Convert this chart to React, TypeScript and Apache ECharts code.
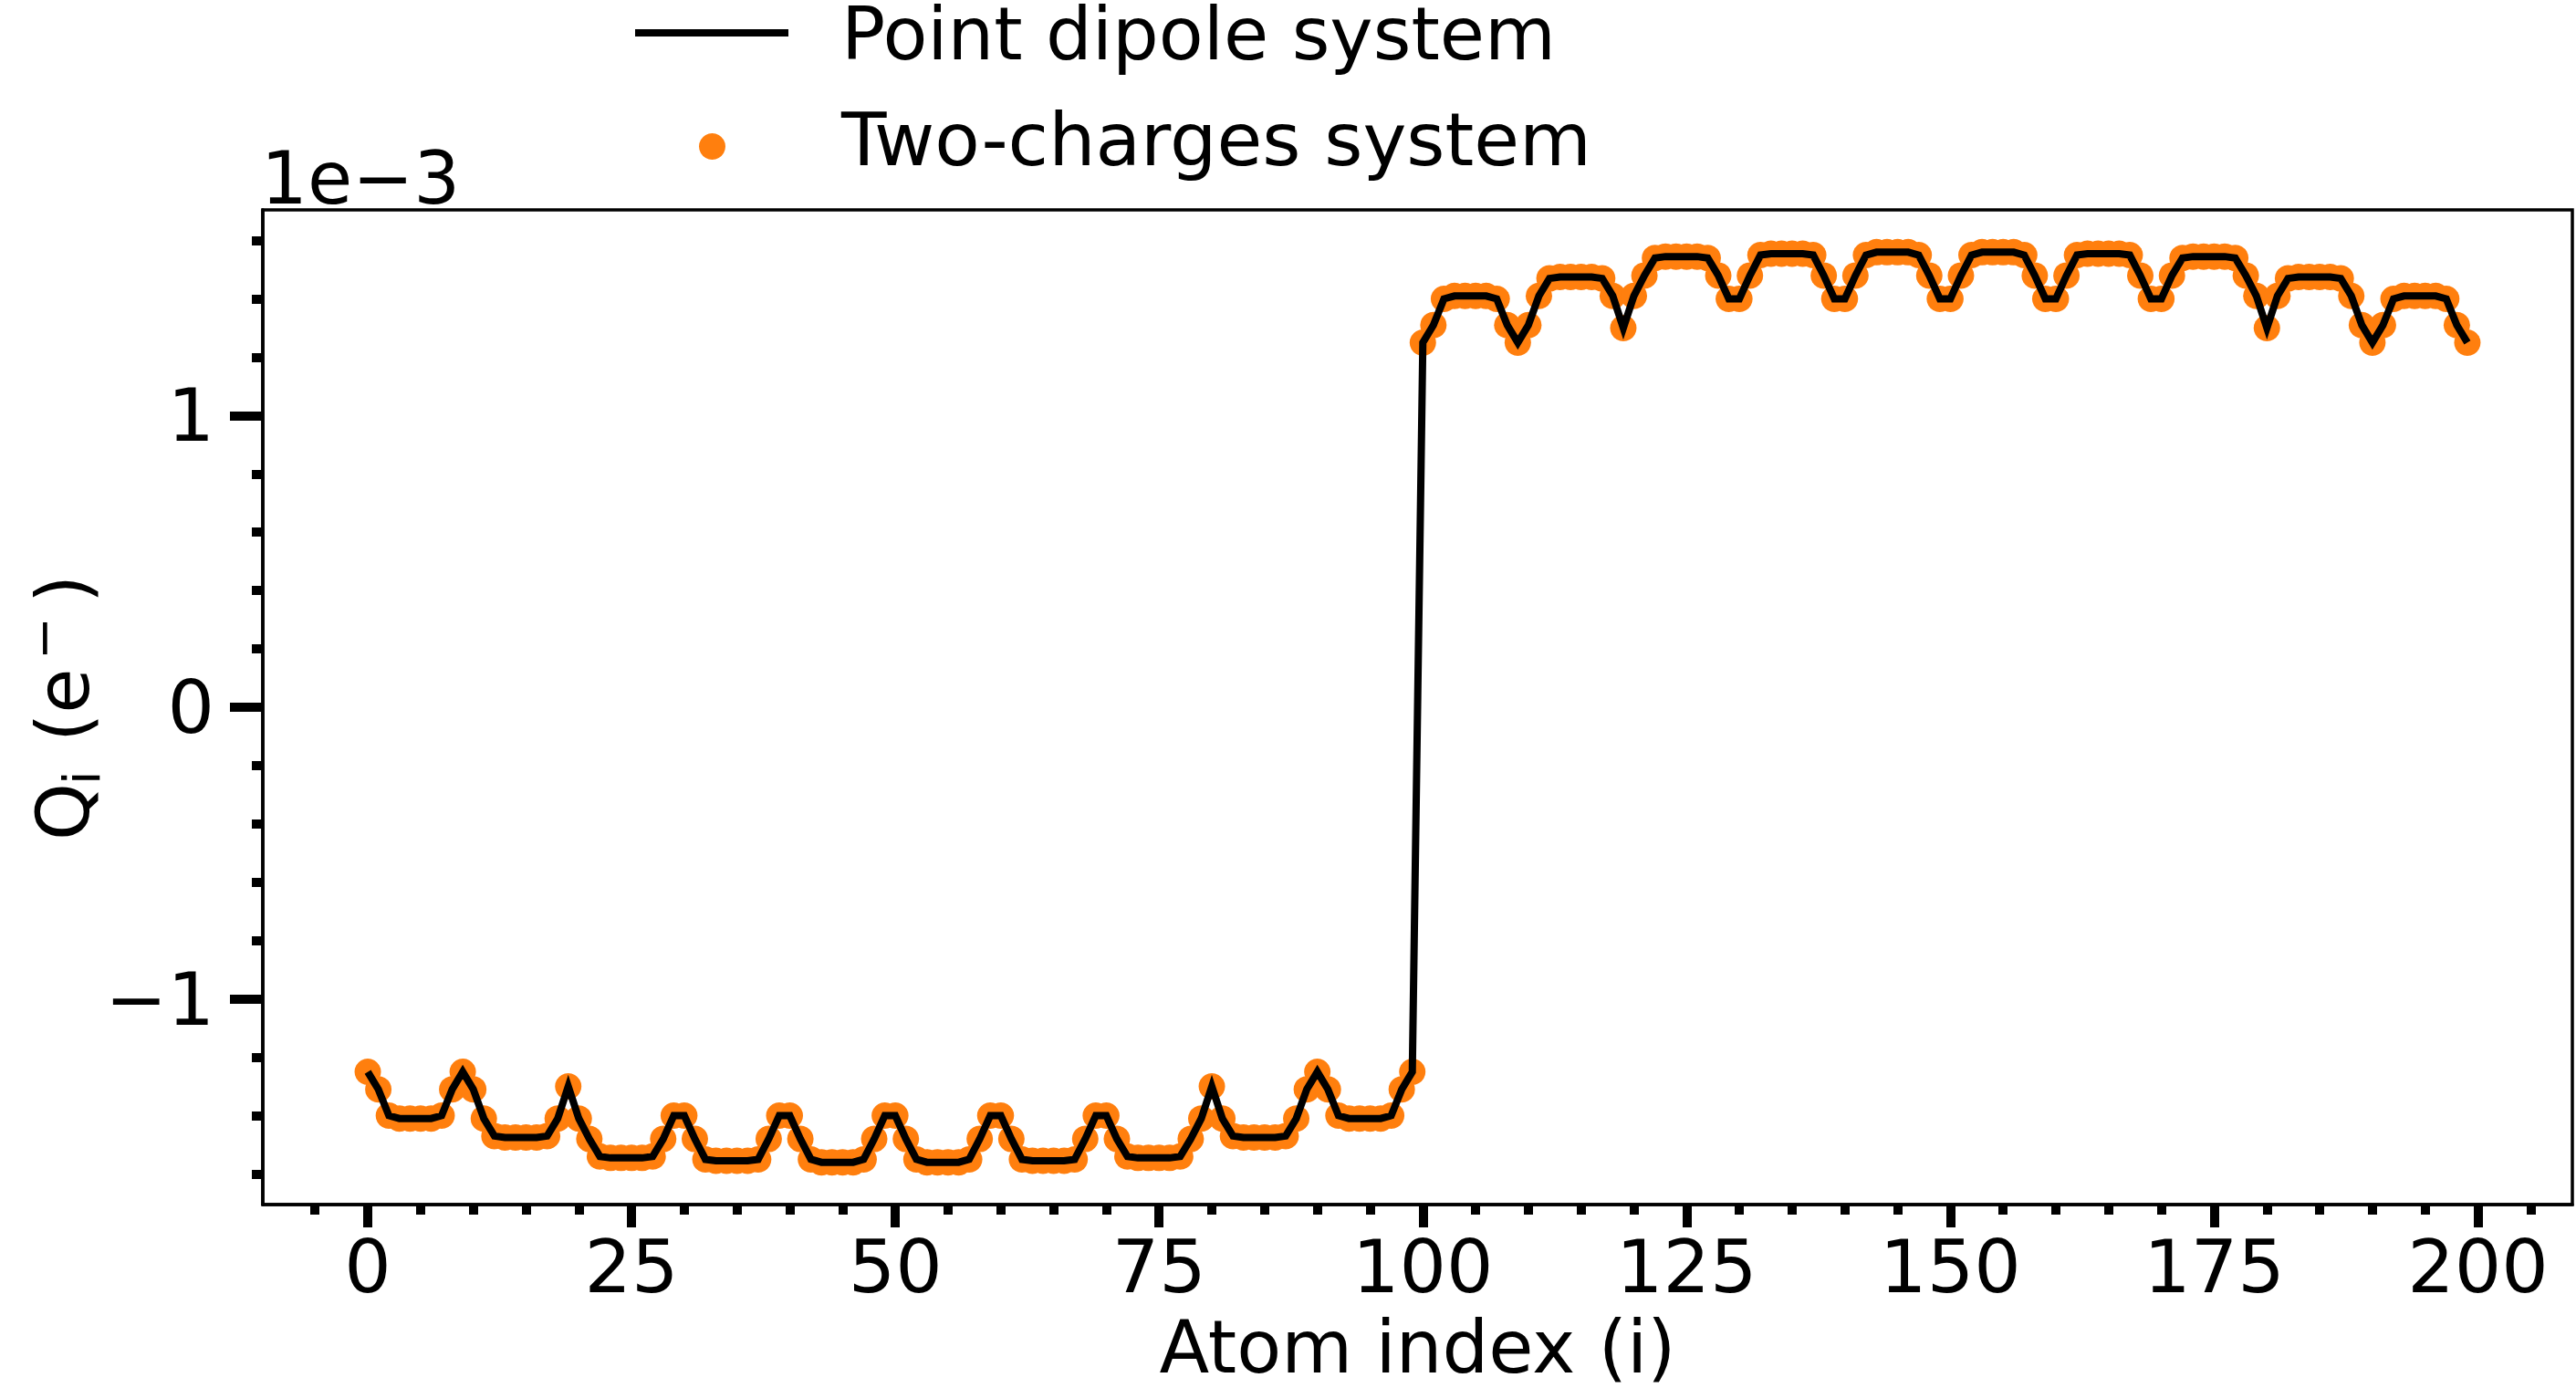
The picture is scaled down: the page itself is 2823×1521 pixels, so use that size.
import React, { useEffect, useRef } from "react";
import * as echarts from "echarts";

// Atom indices (x) and charges in units of 1e-3 e- (y)
const atomIndex = [
  0, 1, 2, 3, 4, 5, 6, 7, 8, 9, 10, 11, 12, 13, 14, 15, 16, 17, 18, 19,
  20, 21, 22, 23, 24, 25, 26, 27, 28, 29, 30, 31, 32, 33, 34, 35, 36, 37, 38, 39,
  40, 41, 42, 43, 44, 45, 46, 47, 48, 49, 50, 51, 52, 53, 54, 55, 56, 57, 58, 59,
  60, 61, 62, 63, 64, 65, 66, 67, 68, 69, 70, 71, 72, 73, 74, 75, 76, 77, 78, 79,
  80, 81, 82, 83, 84, 85, 86, 87, 88, 89, 90, 91, 92, 93, 94, 95, 96, 97, 98, 99,
  100, 101, 102, 103, 104, 105, 106, 107, 108, 109, 110, 111, 112, 113, 114, 115, 116, 117, 118, 119,
  120, 121, 122, 123, 124, 125, 126, 127, 128, 129, 130, 131, 132, 133, 134, 135, 136, 137, 138, 139,
  140, 141, 142, 143, 144, 145, 146, 147, 148, 149, 150, 151, 152, 153, 154, 155, 156, 157, 158, 159,
  160, 161, 162, 163, 164, 165, 166, 167, 168, 169, 170, 171, 172, 173, 174, 175, 176, 177, 178, 179,
  180, 181, 182, 183, 184, 185, 186, 187, 188, 189, 190, 191, 192, 193, 194, 195, 196, 197, 198, 199,
];

const pointDipoleQ = [
  -1.25, -1.31, -1.40, -1.41, -1.41, -1.41, -1.41, -1.40, -1.31, -1.25,
  -1.31, -1.41, -1.47, -1.475, -1.475, -1.475, -1.475, -1.47, -1.41, -1.30,
  -1.41, -1.48, -1.54, -1.545, -1.545, -1.545, -1.545, -1.54, -1.48, -1.40,
  -1.40, -1.48, -1.55, -1.555, -1.555, -1.555, -1.555, -1.55, -1.48, -1.40,
  -1.40, -1.48, -1.55, -1.56, -1.56, -1.56, -1.56, -1.55, -1.48, -1.40,
  -1.40, -1.48, -1.55, -1.56, -1.56, -1.56, -1.56, -1.55, -1.48, -1.40,
  -1.40, -1.48, -1.55, -1.555, -1.555, -1.555, -1.555, -1.55, -1.48, -1.40,
  -1.40, -1.48, -1.54, -1.545, -1.545, -1.545, -1.545, -1.54, -1.48, -1.41,
  -1.30, -1.41, -1.47, -1.475, -1.475, -1.475, -1.475, -1.47, -1.41, -1.31,
  -1.25, -1.31, -1.40, -1.41, -1.41, -1.41, -1.41, -1.40, -1.31, -1.25,
  1.25, 1.31, 1.40, 1.41, 1.41, 1.41, 1.41, 1.40, 1.31, 1.25,
  1.31, 1.41, 1.47, 1.475, 1.475, 1.475, 1.475, 1.47, 1.41, 1.30,
  1.41, 1.48, 1.54, 1.545, 1.545, 1.545, 1.545, 1.54, 1.48, 1.40,
  1.40, 1.48, 1.55, 1.555, 1.555, 1.555, 1.555, 1.55, 1.48, 1.40,
  1.40, 1.48, 1.55, 1.56, 1.56, 1.56, 1.56, 1.55, 1.48, 1.40,
  1.40, 1.48, 1.55, 1.56, 1.56, 1.56, 1.56, 1.55, 1.48, 1.40,
  1.40, 1.48, 1.55, 1.555, 1.555, 1.555, 1.555, 1.55, 1.48, 1.40,
  1.40, 1.48, 1.54, 1.545, 1.545, 1.545, 1.545, 1.54, 1.48, 1.41,
  1.30, 1.41, 1.47, 1.475, 1.475, 1.475, 1.475, 1.47, 1.41, 1.31,
  1.25, 1.31, 1.40, 1.41, 1.41, 1.41, 1.41, 1.40, 1.31, 1.25,
];

const twoChargesQ = [
  -1.25, -1.31, -1.40, -1.41, -1.41, -1.41, -1.41, -1.40, -1.31, -1.25,
  -1.31, -1.41, -1.47, -1.475, -1.475, -1.475, -1.475, -1.47, -1.41, -1.30,
  -1.41, -1.48, -1.54, -1.545, -1.545, -1.545, -1.545, -1.54, -1.48, -1.40,
  -1.40, -1.48, -1.55, -1.555, -1.555, -1.555, -1.555, -1.55, -1.48, -1.40,
  -1.40, -1.48, -1.55, -1.56, -1.56, -1.56, -1.56, -1.55, -1.48, -1.40,
  -1.40, -1.48, -1.55, -1.56, -1.56, -1.56, -1.56, -1.55, -1.48, -1.40,
  -1.40, -1.48, -1.55, -1.555, -1.555, -1.555, -1.555, -1.55, -1.48, -1.40,
  -1.40, -1.48, -1.54, -1.545, -1.545, -1.545, -1.545, -1.54, -1.48, -1.41,
  -1.30, -1.41, -1.47, -1.475, -1.475, -1.475, -1.475, -1.47, -1.41, -1.31,
  -1.25, -1.31, -1.40, -1.41, -1.41, -1.41, -1.41, -1.40, -1.31, -1.25,
  1.25, 1.31, 1.40, 1.41, 1.41, 1.41, 1.41, 1.40, 1.31, 1.25,
  1.31, 1.41, 1.47, 1.475, 1.475, 1.475, 1.475, 1.47, 1.41, 1.30,
  1.41, 1.48, 1.54, 1.545, 1.545, 1.545, 1.545, 1.54, 1.48, 1.40,
  1.40, 1.48, 1.55, 1.555, 1.555, 1.555, 1.555, 1.55, 1.48, 1.40,
  1.40, 1.48, 1.55, 1.56, 1.56, 1.56, 1.56, 1.55, 1.48, 1.40,
  1.40, 1.48, 1.55, 1.56, 1.56, 1.56, 1.56, 1.55, 1.48, 1.40,
  1.40, 1.48, 1.55, 1.555, 1.555, 1.555, 1.555, 1.55, 1.48, 1.40,
  1.40, 1.48, 1.54, 1.545, 1.545, 1.545, 1.545, 1.54, 1.48, 1.41,
  1.30, 1.41, 1.47, 1.475, 1.475, 1.475, 1.475, 1.47, 1.41, 1.31,
  1.25, 1.31, 1.40, 1.41, 1.41, 1.41, 1.41, 1.40, 1.31, 1.25,
];

const xMajorTicks = [0, 25, 50, 75, 100, 125, 150, 175, 200];
const xMinorTicks = [
  -5, 5, 10, 15, 20, 30, 35, 40, 45, 55, 60, 65, 70, 80, 85, 90, 95,
  105, 110, 115, 120, 130, 135, 140, 145, 155, 160, 165, 170, 180, 185, 190, 195, 205,
];
const yMajorTicks = [-1, 0, 1];
const yMinorTicks = [-1.6, -1.4, -1.2, -0.8, -0.6, -0.4, -0.2, 0.2, 0.4, 0.6, 0.8, 1.2, 1.4, 1.6];

const seriesNames = ["Point dipole system", "Two-charges system"];
const xAxisName = "Atom index (i)";
const offsetText = "1e\u22123";

const X_MIN = -9.95;
const X_MAX = 208.95;
const Y_MIN = -1.705;
const Y_MAX = 1.705;

const FONT = "DejaVu Sans";
const BLACK = "#000000";
const ORANGE = "#ff7f0e";

const fmt = (v: number) => (v < 0 ? "\u2212" + String(Math.abs(v)) : String(v));

export default function App() {
  const ref = useRef<HTMLDivElement>(null);

  useEffect(() => {
    if (!ref.current) return;
    const chart = echarts.init(ref.current, undefined, { renderer: "svg" });

    const axisLineStyle = { color: BLACK, width: 3.5 };
    const labelStyle = { fontSize: 81, fontFamily: FONT, color: BLACK };

    const option: any = {
      animation: false,
      backgroundColor: "#ffffff",
      grid: {
        left: 288,
        top: 230,
        width: 2531,
        height: 1090,
        show: true,
        borderColor: BLACK,
        borderWidth: 3.5,
        backgroundColor: "transparent",
      },
      xAxis: [
        {
          type: "value",
          min: X_MIN,
          max: X_MAX,
          position: "bottom",
          axisLine: { show: true, onZero: false, lineStyle: axisLineStyle },
          axisTick: { show: true, customValues: xMajorTicks, length: 25, lineStyle: { color: BLACK, width: 10 } },
          axisLabel: { show: true, customValues: xMajorTicks, margin: 27, formatter: fmt, ...labelStyle },
          splitLine: { show: false },
          name: xAxisName,
          nameLocation: "middle",
          nameGap: 116,
          nameTextStyle: { fontSize: 80, fontFamily: FONT, color: BLACK },
        },
        {
          type: "value",
          min: X_MIN,
          max: X_MAX,
          position: "bottom",
          axisLine: { show: false, onZero: false },
          axisTick: { show: true, customValues: xMinorTicks, length: 11, lineStyle: { color: BLACK, width: 10 } },
          axisLabel: { show: false },
          splitLine: { show: false },
        },
      ],
      yAxis: [
        {
          type: "value",
          min: Y_MIN,
          max: Y_MAX,
          position: "left",
          axisLine: { show: true, onZero: false, lineStyle: axisLineStyle },
          axisTick: { show: true, customValues: yMajorTicks, length: 36, lineStyle: { color: BLACK, width: 10 } },
          axisLabel: { show: true, customValues: yMajorTicks, margin: 53, formatter: fmt, ...labelStyle },
          splitLine: { show: false },
        },
        {
          type: "value",
          min: Y_MIN,
          max: Y_MAX,
          position: "left",
          axisLine: { show: false, onZero: false },
          axisTick: { show: true, customValues: yMinorTicks, length: 12, lineStyle: { color: BLACK, width: 10 } },
          axisLabel: { show: false },
          splitLine: { show: false },
        },
      ],
      series: [
        {
          name: seriesNames[1],
          type: "scatter",
          xAxisIndex: 0,
          yAxisIndex: 0,
          data: atomIndex.map((x, i) => [x, twoChargesQ[i]]),
          symbol: "circle",
          symbolSize: 29,
          itemStyle: { color: ORANGE, opacity: 1 },
          z: 2,
        },
        {
          name: seriesNames[0],
          type: "line",
          xAxisIndex: 0,
          yAxisIndex: 0,
          data: atomIndex.map((x, i) => [x, pointDipoleQ[i]]),
          symbol: "none",
          lineStyle: { color: BLACK, width: 8, join: "miter" },
          z: 3,
        },
      ],
      graphic: [
        {
          type: "line",
          shape: { x1: 696, y1: 36, x2: 864, y2: 36 },
          style: { stroke: BLACK, lineWidth: 8 },
        },
        {
          type: "circle",
          shape: { cx: 780.5, cy: 160.5, r: 14.5 },
          style: { fill: ORANGE },
        },
        {
          type: "text",
          x: 922,
          y: 37,
          style: { text: seriesNames[0], fontSize: 80, lineHeight: 72, fontFamily: FONT, fill: BLACK, align: "left", verticalAlign: "middle" },
        },
        {
          type: "text",
          x: 922,
          y: 153,
          style: { text: seriesNames[1], fontSize: 81, lineHeight: 72, fontFamily: FONT, fill: BLACK, align: "left", verticalAlign: "middle" },
        },
        {
          type: "text",
          x: 286,
          y: 195,
          style: { text: offsetText, fontSize: 80, fontFamily: FONT, fill: BLACK, align: "left", verticalAlign: "middle" },
        },
        {
          type: "group",
          x: 97,
          y: 918,
          rotation: Math.PI / 2,
          children: [
            { type: "text", x: -3, y: -28, style: { text: "Q", fontSize: 80, fontFamily: FONT, fill: BLACK, align: "left", verticalAlign: "middle" } },
            { type: "text", x: 58, y: -8, style: { text: "i", fontSize: 56, fontFamily: FONT, fill: BLACK, align: "left", verticalAlign: "middle" } },
            { type: "text", x: 105, y: -28, style: { text: "(e", fontSize: 80, fontFamily: FONT, fill: BLACK, align: "left", verticalAlign: "middle" } },
            { type: "text", x: 195, y: -50, style: { text: "\u2212", fontSize: 56, fontFamily: FONT, fill: BLACK, align: "left", verticalAlign: "middle" } },
            { type: "text", x: 257, y: -28, style: { text: ")", fontSize: 80, fontFamily: FONT, fill: BLACK, align: "left", verticalAlign: "middle" } },
          ],
        },
      ],
    };

    chart.setOption(option);
    return () => chart.dispose();
  }, []);

  return (
    <div
      ref={ref}
      style={{ position: "fixed", left: 0, top: 0, width: 2823, height: 1521, background: "#ffffff" }}
    />
  );
}
